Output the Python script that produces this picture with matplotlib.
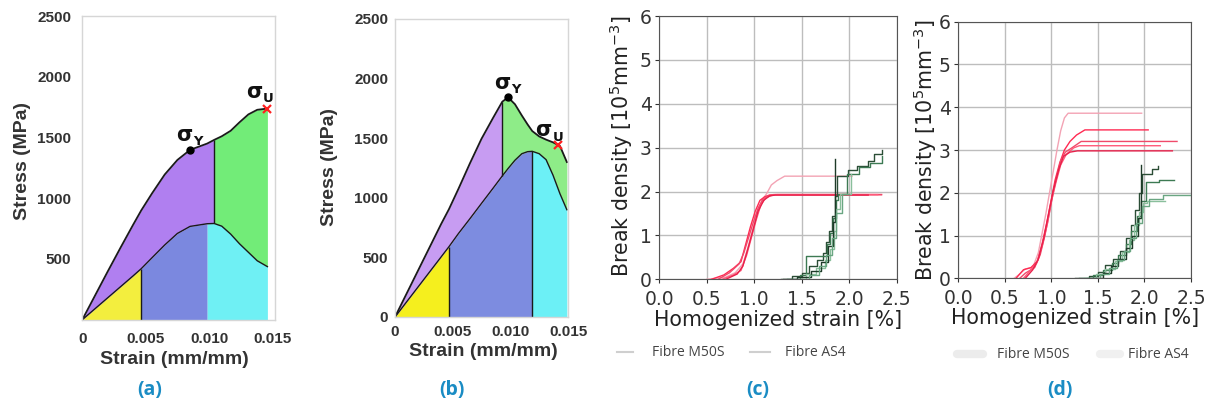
import matplotlib
matplotlib.use("Agg")
import matplotlib.pyplot as plt
from matplotlib.lines import Line2D
import numpy as np

# ----------------------------
# Stress-strain panels (a) and (b)
# ----------------------------
strain_a = [0.0, 0.0010, 0.0020, 0.0030, 0.0040, 0.00465, 0.0055, 0.0065, 0.0075,
            0.0085, 0.00985, 0.0104, 0.0110, 0.0117, 0.0124, 0.0131, 0.0138, 0.0146]
total_a = [0, 198, 396, 590, 780, 900, 1040, 1195, 1315,
           1398, 1450, 1480, 1510, 1555, 1625, 1690, 1728, 1738]
lower_a = [0, 90, 180, 270, 360, 420, 510, 615, 710,
           768, 790, 792, 770, 705, 625, 555, 485, 437]
bounds_a = [0.00465, 0.00985, 0.0104]   # yellow | blue | cyan ; purple | green
yield_a = (0.0085, 1398)
ult_a = (0.0146, 1738)

strain_b = [0.0, 0.0010, 0.0020, 0.0030, 0.0040, 0.00468, 0.0055, 0.0065, 0.0075, 0.0085,
            0.0093, 0.0098, 0.0104, 0.0110, 0.0115, 0.0119, 0.0125, 0.0131, 0.0137, 0.0143, 0.0149]
total_b = [0, 195, 390, 585, 780, 905, 1075, 1290, 1495, 1670,
           1806, 1843, 1785, 1690, 1615, 1560, 1515, 1488, 1465, 1435, 1300]
lower_b = [0, 126, 252, 378, 504, 590, 700, 825, 953, 1080,
           1183, 1245, 1315, 1370, 1387, 1390, 1370, 1320, 1190, 1035, 900]
bounds_b = [0.00468, 0.0119, 0.0093]    # yellow | blue | cyan ; purple | green
yield_b = (0.0098, 1843)
ult_b = (0.0141, 1443)

# ----------------------------
# Break density panels (c) and (d)
# ----------------------------
m50s_c = [
    ([0.50, 0.70, 0.80, 0.88, 0.93, 0.98, 1.03, 1.08, 1.13, 1.18, 1.24, 1.32, 2.03],
     [0.00, 0.05, 0.15, 0.35, 0.70, 1.10, 1.50, 1.80, 1.95, 2.15, 2.25, 2.35, 2.35]),
    ([0.55, 0.68, 0.78, 0.86, 0.91, 0.96, 1.01, 1.06, 1.11, 1.16, 1.22, 2.34],
     [0.00, 0.10, 0.25, 0.40, 0.80, 1.20, 1.55, 1.80, 1.88, 1.92, 1.93, 1.93]),
    ([0.62, 0.74, 0.84, 0.89, 0.94, 0.99, 1.04, 1.09, 1.14, 1.20, 1.26, 2.34],
     [0.00, 0.15, 0.35, 0.60, 0.95, 1.30, 1.62, 1.82, 1.90, 1.93, 1.93, 1.93]),
    ([0.66, 0.78, 0.86, 0.92, 0.97, 1.02, 1.07, 1.12, 1.18, 1.24, 2.30],
     [0.00, 0.10, 0.20, 0.55, 0.95, 1.35, 1.70, 1.85, 1.91, 1.93, 1.93]),
    ([0.70, 0.82, 0.88, 0.94, 0.99, 1.04, 1.10, 1.16, 1.22, 2.20],
     [0.00, 0.12, 0.30, 0.75, 1.15, 1.55, 1.80, 1.90, 1.92, 1.92]),
]
as4_c = [
    ([1.28, 1.40, 1.50, 1.58, 1.66, 1.72, 1.76, 1.79, 1.82, 1.85, 1.87, 1.99, 2.08, 2.20, 2.26, 2.34],
     [0.00, 0.08, 0.15, 0.30, 0.45, 0.60, 0.85, 1.10, 1.45, 1.90, 2.35, 2.50, 2.58, 2.70, 2.85, 2.95]),
    ([1.35, 1.48, 1.55, 1.72, 1.77, 1.80, 1.83, 1.86, 1.88, 1.98, 2.10, 2.22, 2.34],
     [0.00, 0.10, 0.53, 0.53, 0.80, 1.05, 1.40, 1.80, 1.95, 2.40, 2.55, 2.65, 2.82]),
    ([1.40, 1.55, 1.65, 1.74, 1.80, 1.84, 1.86, 1.90, 1.95, 2.02],
     [0.00, 0.12, 0.25, 0.45, 0.70, 1.10, 1.60, 1.95, 1.95, 2.40]),
    ([1.30, 1.45, 1.60, 1.70, 1.78, 1.83, 1.85],
     [0.00, 0.05, 0.20, 0.40, 0.75, 1.30, 2.75]),
    ([1.45, 1.58, 1.68, 1.76, 1.82, 1.86, 1.92, 2.00],
     [0.00, 0.10, 0.30, 0.55, 0.95, 1.50, 1.95, 1.95]),
]
m50s_d = [
    ([0.60, 0.66, 0.72, 0.80, 0.86, 0.90, 0.94, 0.98, 1.02, 1.06, 1.10, 1.14, 1.18, 1.97],
     [0.00, 0.10, 0.22, 0.25, 0.60, 1.05, 1.50, 2.00, 2.50, 3.00, 3.45, 3.75, 3.86, 3.86]),
    ([0.62, 0.70, 0.78, 0.85, 0.90, 0.95, 1.00, 1.04, 1.09, 1.14, 1.20, 1.27, 1.36, 2.04],
     [0.00, 0.20, 0.25, 0.40, 0.80, 1.30, 1.85, 2.30, 2.70, 3.00, 3.20, 3.35, 3.47, 3.47]),
    ([0.66, 0.72, 0.82, 0.88, 0.93, 0.98, 1.02, 1.06, 1.10, 1.15, 1.22, 1.32, 2.35],
     [0.00, 0.12, 0.25, 0.55, 1.00, 1.55, 2.00, 2.40, 2.75, 2.95, 3.05, 3.20, 3.20]),
    ([0.70, 0.76, 0.84, 0.90, 0.96, 1.00, 1.05, 1.10, 1.16, 1.24, 1.30, 2.17],
     [0.00, 0.15, 0.35, 0.75, 1.30, 1.80, 2.25, 2.65, 2.90, 3.05, 3.10, 3.10]),
    ([0.72, 0.80, 0.86, 0.92, 0.97, 1.02, 1.08, 1.13, 1.20, 1.28, 2.30],
     [0.00, 0.20, 0.45, 0.95, 1.50, 2.05, 2.55, 2.85, 2.95, 2.98, 2.98]),
]
as4_d = [
    ([1.25, 1.40, 1.50, 1.58, 1.66, 1.74, 1.80, 1.86, 1.90, 1.94, 1.97, 2.08, 2.15],
     [0.00, 0.05, 0.15, 0.30, 0.45, 0.65, 0.95, 1.25, 1.60, 2.00, 2.45, 2.55, 2.62]),
    ([1.30, 1.45, 1.55, 1.65, 1.72, 1.80, 1.86, 1.92, 1.96, 2.02, 2.16, 2.32],
     [0.00, 0.08, 0.20, 0.35, 0.55, 0.80, 1.10, 1.45, 1.80, 2.25, 2.30, 2.30]),
    ([1.35, 1.48, 1.58, 1.68, 1.76, 1.83, 1.89, 1.94, 1.98, 2.03, 2.22],
     [0.00, 0.10, 0.22, 0.40, 0.62, 0.90, 1.25, 1.55, 1.75, 1.81, 1.81]),
    ([1.42, 1.55, 1.64, 1.72, 1.80, 1.87, 1.93, 1.96],
     [0.00, 0.12, 0.28, 0.45, 0.70, 1.00, 1.40, 2.65]),
    ([1.38, 1.52, 1.62, 1.70, 1.78, 1.85, 1.91, 1.97, 2.05, 2.20, 2.50],
     [0.00, 0.10, 0.25, 0.42, 0.65, 0.95, 1.30, 1.70, 1.85, 1.95, 1.95]),
]
legend_names = ["Fibre M50S", "Fibre AS4"]
panel_tags = ["(a)", "(b)", "(c)", "(d)"]

RED_SHADES = ["#f3a3b4", "#ff2a52", "#f04a6a", "#ff5a7a", "#e8204a"]
GREEN_SHADES = ["#2b4d36", "#3d7a53", "#8abf9c", "#1e3a28", "#6aa682"]
TAG_COLOR = "#1a8cc4"
INK = "#333333"

W, H = 1211, 412
fig = plt.figure(figsize=(W / 100, H / 100), dpi=100)
fig.patch.set_facecolor("white")


def px_axes(left, top, right, bottom):
    """Axes placed by pixel edges."""
    return fig.add_axes([left / W, 1 - bottom / H, (right - left) / W, (bottom - top) / H])


def px_text(x, y, s, **kw):
    return fig.text(x / W, 1 - y / H, s, **kw)


def px_line(x0, x1, y, **kw):
    fig.add_artist(Line2D([x0 / W, x1 / W], [1 - y / H, 1 - y / H],
                          transform=fig.transFigure, **kw))


def sigma_label(ax, x, y, sub):
    """Upright bold sigma with a small subscript letter."""
    ax.text(x, y, "σ", fontsize=15, fontweight="bold", ha="right", va="baseline",
            family="DejaVu Sans", color="#111111")
    ax.annotate(sub, (x, y), xytext=(0.5, -3), textcoords="offset points",
                fontsize=9.5, fontweight="bold", ha="left", va="baseline",
                family="DejaVu Sans", color="#111111")


def stress_panel(ax, strain, total, lower, b_low, b_mid, b_top, colors):
    s = np.array(strain)
    t = np.array(total)
    lo = np.array(lower)
    yellow, blue, cyan, purple, green = colors
    ax.fill_between(s, 0, lo, where=s <= b_low, color=yellow, lw=0)
    ax.fill_between(s, 0, lo, where=(s >= b_low) & (s <= b_mid), color=blue, lw=0)
    ax.fill_between(s, 0, lo, where=s >= b_mid, color=cyan, lw=0)
    ax.fill_between(s, lo, t, where=s <= b_top, color=purple, lw=0)
    ax.fill_between(s, lo, t, where=s >= b_top, color=green, lw=0)
    ax.plot(s, t, color="#1a1a1a", lw=1.3)
    ax.plot(s, lo, color="#1a1a1a", lw=1.0)


def finish_stress(ax, xmax, yticks, xpad, ypad):
    ax.set_xlim(0, xmax)
    ax.set_ylim(0, 2500)
    ax.set_xticks([0, 0.005, 0.010, 0.015])
    ax.set_xticklabels(["0", "0.005", "0.010", "0.015"])
    ax.set_yticks(yticks)
    ax.tick_params(length=0, labelsize=11, labelcolor=INK)
    ax.tick_params(axis="x", pad=xpad)
    ax.tick_params(axis="y", pad=ypad)
    for lab in ax.get_xticklabels() + ax.get_yticklabels():
        lab.set_fontfamily("Liberation Sans")
        lab.set_fontweight("bold")
    for sp in ax.spines.values():
        sp.set_color("#d6d6d6")
        sp.set_linewidth(1.0)


# --- (a)
ax_a = px_axes(82.3, 16, 275, 319.7)
stress_panel(ax_a, strain_a, total_a, lower_a, bounds_a[0], bounds_a[1], bounds_a[2],
             ["#f3ee3e", "#7b88df", "#6ff0f4", "#b07ff0", "#72ec78"])
i0 = strain_a.index(bounds_a[0])
i2 = strain_a.index(bounds_a[2])
ax_a.vlines(bounds_a[0], 0, lower_a[i0], color="#1a1a1a", lw=1.0)
ax_a.vlines(bounds_a[2], lower_a[i2], total_a[i2], color="#1a1a1a", lw=1.0)
ax_a.plot(*yield_a, "o", color="black", ms=5)
ax_a.plot(*ult_a, "x", color="#ff2020", ms=6, mew=1.6)
sigma_label(ax_a, 0.0087, 1470, "Y")
sigma_label(ax_a, 0.0142, 1825, "U")
finish_stress(ax_a, 0.0152, [500, 1000, 1500, 2000, 2500], 9, 8)

# --- (b)
ax_b = px_axes(395, 19, 568, 317)
stress_panel(ax_b, strain_b, total_b, lower_b, bounds_b[0], bounds_b[1], bounds_b[2],
             ["#f5ef1e", "#7d8ce0", "#6cf0f6", "#c79cf2", "#8eec88"])
j0 = strain_b.index(bounds_b[0])
j1 = strain_b.index(bounds_b[1])
j2 = strain_b.index(bounds_b[2])
ax_b.vlines(bounds_b[0], 0, lower_b[j0], color="#1a1a1a", lw=1.0)
ax_b.vlines(bounds_b[1], 0, lower_b[j1], color="#1a1a1a", lw=1.0)
ax_b.vlines(bounds_b[2], lower_b[j2], total_b[j2], color="#1a1a1a", lw=1.0)
ax_b.plot(*yield_b, "o", color="black", ms=5)
ax_b.plot(*ult_b, "x", color="#ff2020", ms=6, mew=1.6)
sigma_label(ax_b, 0.0100, 1910, "Y")
sigma_label(ax_b, 0.0136, 1515, "U")
finish_stress(ax_b, 0.015, [0, 500, 1000, 1500, 2000, 2500], 6, 5)

for x, y in [(23, 161), (330, 167)]:
    px_text(x, y, "Stress (MPa)", rotation=90, ha="center", va="center", fontsize=14,
            fontweight="bold", color=INK, family="Liberation Sans")
for x, y in [(174, 360), (483, 352)]:
    px_text(x, y, "Strain (mm/mm)", ha="center", va="center", fontsize=14,
            fontweight="bold", color=INK, family="Liberation Sans")


# --- (c) and (d)
def density_panel(ax, reds, greens):
    for k, (x, y) in enumerate(reds):
        ax.plot(x, y, color=RED_SHADES[k % len(RED_SHADES)], lw=1.0)
    for k, (x, y) in enumerate(greens):
        ax.plot(x, y, color=GREEN_SHADES[k % len(GREEN_SHADES)], lw=1.0, drawstyle="steps-post")
    ax.set_xlim(0, 2.5)
    ax.set_ylim(0, 6)
    ax.set_xticks(np.arange(0, 2.51, 0.5))
    ax.set_yticks(range(7))
    ax.grid(True, color="#bdbdbd", lw=1.0)
    ax.set_axisbelow(True)
    ax.tick_params(labelsize=13.5, colors=INK, length=3)
    ax.tick_params(axis="x", pad=4.5)
    ax.tick_params(axis="y", pad=2.5)
    for sp in ax.spines.values():
        sp.set_color("#555555")


ax_c = px_axes(659.3, 16, 896.7, 279.3)
density_panel(ax_c, m50s_c, as4_c)
ax_d = px_axes(958.3, 21.7, 1191, 278.3)
density_panel(ax_d, m50s_d, as4_d)

for (xl, yl), (xy, yy) in [((778, 320), (621, 146)), ((1075, 318), (925, 150))]:
    px_text(xl, yl, "Homogenized strain [%]", ha="center", va="center", fontsize=14.8, color="#222222")
    px_text(xy, yy, r"Break density [10$^5$mm$^{-3}$]", rotation=90, ha="center", va="center",
            fontsize=14.8, color="#222222")

# legends below (c) and (d)
px_line(617, 633, 352, color="#cfcfcf", lw=1.5)
px_line(750, 770, 352, color="#cfcfcf", lw=1.5)
px_line(957, 983, 354, color="#ececec", lw=6, solid_capstyle="round")
px_line(1100, 1120, 354, color="#f0f0f0", lw=6, solid_capstyle="round")
for x, y, name in [(652, 352, legend_names[0]), (785, 352, legend_names[1]),
                   (997, 354, legend_names[0]), (1128, 354, legend_names[1])]:
    px_text(x, y, name, ha="left", va="center", fontsize=10, color="#444444", family="Open Sans")

for x, tag in zip([150, 452, 758, 1060], panel_tags):
    px_text(x, 390, tag, ha="center", va="center", fontsize=14, fontweight="bold",
            color=TAG_COLOR, family="Open Sans")

fig.savefig("out.png", dpi=100, facecolor="white")
